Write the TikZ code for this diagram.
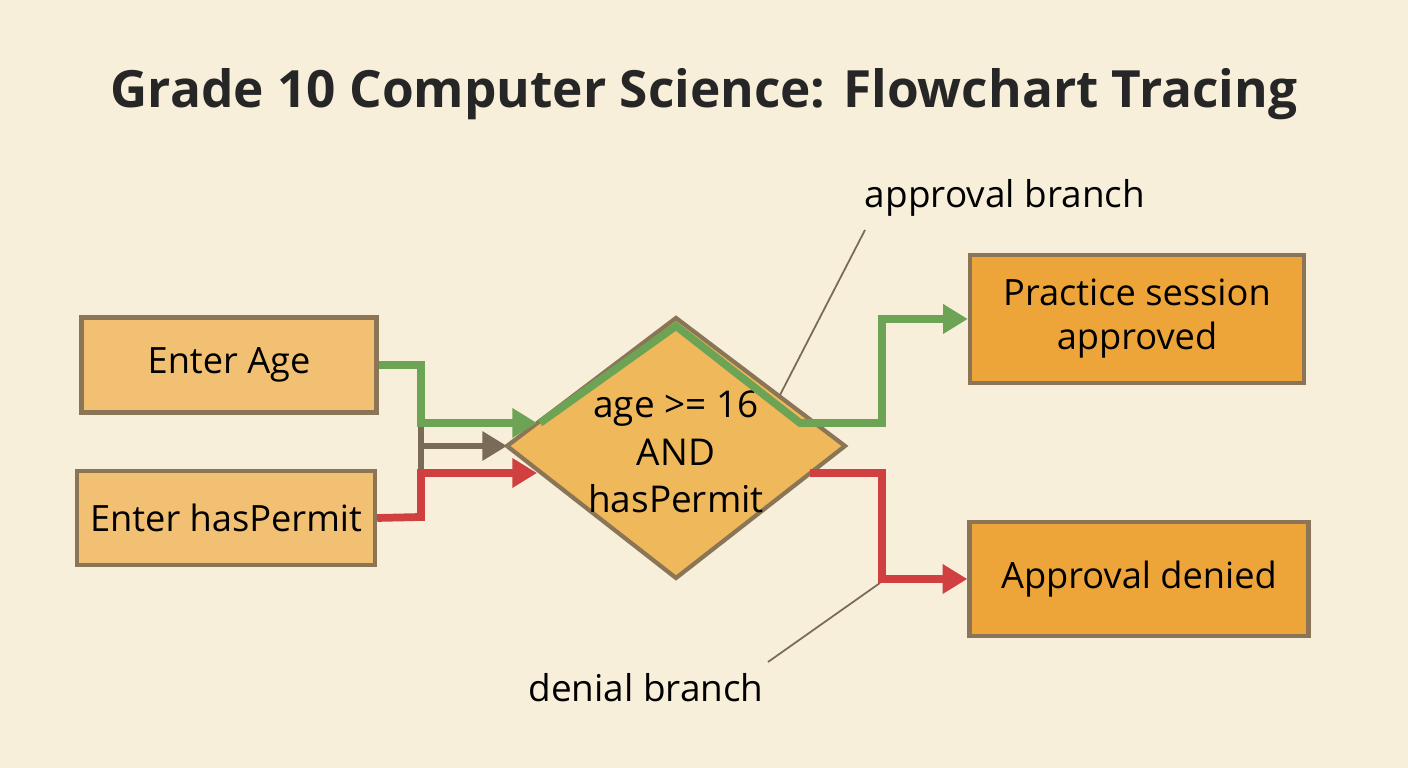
\documentclass[tikz,border=0pt]{standalone}
\usepackage{fontspec}
\setmainfont{Open Sans}
\usetikzlibrary{arrows.meta}
\definecolor{bg}{HTML}{F7EFDA}
\definecolor{inbox}{HTML}{F2C073}
\definecolor{outbox}{HTML}{EDA53A}
\definecolor{decfill}{HTML}{EFB85A}
\definecolor{edge}{HTML}{8A7556}
\definecolor{okgreen}{HTML}{6DA354}
\definecolor{nored}{HTML}{D04040}
\definecolor{flowgray}{HTML}{7A6A58}
\tikzset{
  box/.style={draw=edge, line width=1.2pt, minimum height=0.95cm, align=center, inner sep=1pt,
    font=\fontsize{10.3}{12.5}\selectfont},
  flow/.style={line width=2.2pt, -{Triangle[length=7pt,width=8pt]}},
  note/.style={font=\fontsize{10.5}{13}\selectfont},
}
\begin{document}
\begin{tikzpicture}[x=0.01cm,y=-0.01cm]
    % background
    \fill[bg] (0,0) rectangle (1408,768);
    \useasboundingbox (0,0) rectangle (1408,768);

    % title
    \node[font=\fontsize{14.6}{17}\selectfont\bfseries, text=black!85] (title) at (704,94) {Grade 10 Computer Science: Flowchart Tracing};

    % input boxes
    \node[box, fill=inbox, minimum width=2.95cm, minimum height=0.95cm] (age) at (229,365) {Enter Age};
    \node[box, fill=inbox, minimum width=2.98cm, minimum height=0.94cm] (permit) at (226,518) {Enter hasPermit};

    % output boxes
    \node[box, fill=outbox, minimum width=3.34cm, minimum height=1.28cm] (yes) at (1137,319) {Practice session\\approved};
    \node[box, fill=outbox, minimum width=3.39cm, minimum height=1.14cm] (no) at (1139,579) {Approval denied};

    % decision
    \coordinate (dl) at (507,446);
    \coordinate (dt) at (676,318);
    \coordinate (dr) at (845,446);
    \coordinate (db) at (676,578);
    \draw[edge, fill=decfill, line width=1.2pt] (dl) -- (dt) -- (dr) -- (db) -- cycle;
    \node[align=center, font=\fontsize{10.5}{13.5}\selectfont] (cond) at (676,452) {age >= 16\\AND\\hasPermit};

    % merge
    \coordinate (jt) at (421,423);
    \coordinate (jb) at (421,495);
    \draw[flowgray, line width=1.6pt] (jt) -- (jb);
    \draw[flowgray, line width=1.6pt, -{Triangle[length=7pt,width=8pt]}] (421,446) -- (dl);

    % green approval path
    \draw[flow, okgreen] (age.east) -- (421,365) -- (421,423) -- (537,423);
    \draw[flow, okgreen] (540,423) -- (676,326) -- (800,423) -- (882,423) |- (yes.west);

    % red denial path
    \draw[flow, nored] (permit.east) -- (421,517) -- (421,473) -- (537,473);
    \draw[flow, nored] (810,473) -- (882,473) |- (no.west);

    % annotations
    \node[note] (apl) at (1005,198) {approval branch};
    \node[note] (dnl) at (646,688) {denial branch};
    \draw[flowgray, line width=0.5pt] (865,230) -- (780,395);
    \draw[flowgray, line width=0.5pt] (880,583) -- (768,662);
\end{tikzpicture}
\end{document}
